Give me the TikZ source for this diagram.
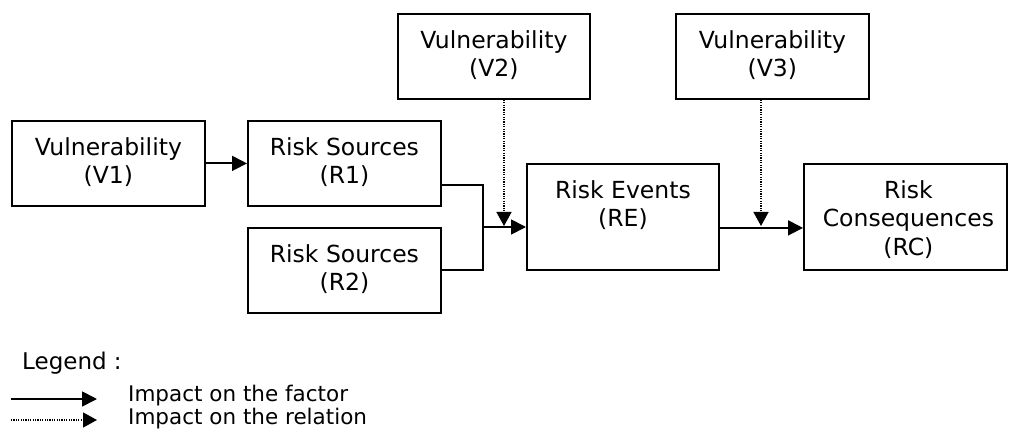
\documentclass[tikz,border=0pt]{standalone}
\usepackage{fontspec}
\setmainfont{DejaVu Sans}
\usetikzlibrary{arrows.meta,calc}
\begin{document}
\begin{tikzpicture}[x=1pt,y=-1pt,
  box/.style={draw,line width=1.8pt,inner sep=0pt,anchor=north west},
  txt/.style={align=center,inner sep=0pt,anchor=north,font=\fontsize{23.5}{28.7}\selectfont},
  plain/.style={line width=1.8pt},
  flow/.style={line width=1.8pt,-{Triangle[length=15pt,width=15pt]}},
  rel/.style={line width=1.4pt,dash pattern=on 1.2pt off 1.2pt,-{Triangle[length=14pt,width=15pt]}},
  leg/.style={anchor=west,inner sep=0pt,font=\fontsize{21.5}{22}\selectfont}]
\useasboundingbox (0,0) rectangle (1009,430);
% boxes
\node[box,minimum width=193pt,minimum height=85pt] (V1) at (11,120) {};
\node[box,minimum width=193pt,minimum height=85pt] (R1) at (247,120) {};
\node[box,minimum width=193pt,minimum height=85pt] (R2) at (247,227) {};
\node[box,minimum width=192pt,minimum height=106pt] (RE) at (526,163) {};
\node[box,minimum width=203pt,minimum height=106pt] (RC) at (803,163) {};
\node[box,minimum width=192pt,minimum height=85pt] (V2) at (397,13) {};
\node[box,minimum width=193pt,minimum height=85pt] (V3) at (675,13) {};
% texts
\node[txt] (V1t) at ([yshift=-17pt]V1.north) {Vulnerability\\(V1)};
\node[txt] (R1t) at ([yshift=-17pt]R1.north) {Risk Sources\\(R1)};
\node[txt] (R2t) at ([yshift=-17pt]R2.north) {Risk Sources\\(R2)};
\node[txt] (REt) at ([yshift=-17pt]RE.north) {Risk Events\\(RE)};
\node[txt] (RCt) at ([yshift=-17pt,xshift=3pt]RC.north) {Risk\\Consequences\\(RC)};
\node[txt] (V2t) at ([yshift=-17pt]V2.north) {Vulnerability\\(V2)};
\node[txt] (V3t) at ([yshift=-17pt]V3.north) {Vulnerability\\(V3)};
% connectors
\draw[flow] (V1.east) -- (R1.west);
\coordinate (m) at (483,227);
\draw[plain] ([yshift=-21.5pt]R1.east) -| (m);
\draw[plain] (R2.east) -| (m);
\draw[flow] (m) -- (m -| RE.west);
\coordinate (d2) at (504,226);
\draw[rel] (d2 |- V2.south) -- (d2);
\draw[flow] ([yshift=-11pt]RE.east) -- ([yshift=-11pt]RC.west);
\coordinate (d3) at (761,226);
\draw[rel] (d3 |- V3.south) -- (d3);
% legend
\node[leg,font=\fontsize{23}{24}\selectfont] (lg) at (22,363) {Legend :};
\coordinate (a1) at (11,399);
\coordinate (b1) at (97,399);
\draw[flow] (a1) -- (b1);
\node[leg] (f1) at (128,396) {Impact on the factor};
\coordinate (a2) at (11,420);
\coordinate (b2) at (97,420);
\draw[rel] (a2) -- (b2);
\node[leg] (f2) at (128,418.5) {Impact on the relation};
\end{tikzpicture}
\end{document}
